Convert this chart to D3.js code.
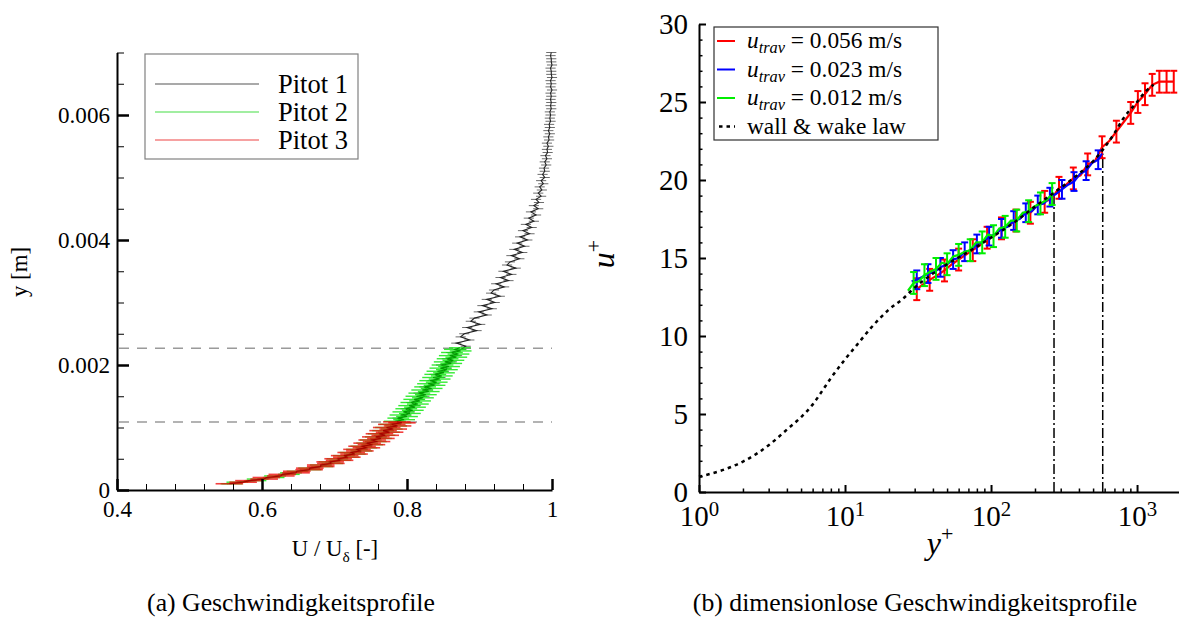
<!DOCTYPE html>
<html>
<head>
<meta charset="utf-8">
<script src="https://cdn.jsdelivr.net/npm/d3@7"></script>
<style>
  body { margin: 0; background: #fff; }
  svg { display: block; }
</style>
</head>
<body>
<svg id="fig" width="1179" height="620"></svg>
<script>
// ---------- (a) velocity profiles of the three Pitot probes ----------
const profileXTicks = [0.4, 0.6, 0.8, 1];
const profileXTickLabels = ["0.4", "0.6", "0.8", "1"];
const profileYTicks = [0, 0.002, 0.004, 0.006];
const profileYTickLabels = ["0", "0.002", "0.004", "0.006"];
const pitotNames = ["Pitot 1", "Pitot 2", "Pitot 3"];
const overlapLimits = [0.00109, 0.00227];   // m, traverse overlap bounds
const pitotErr = [0.007, 0.015, 0.019];      // half width of the U/U_delta bars

// wall distance in mm, U / U_delta
const pitot1Ymm = [0.10,0.15,0.20,0.25,0.30,0.35,0.40,0.45,0.50,0.55,0.60,0.65,0.70,0.75,0.80,0.85,0.90,0.95,1.00,1.05,
  1.10,1.15,1.20,1.25,1.30,1.35,1.40,1.45,1.50,1.55,1.60,1.65,1.70,1.75,1.80,1.85,1.90,1.95,2.00,2.05,
  2.10,2.15,2.20,2.25,2.30,2.35,2.40,2.45,2.50,2.55,2.60,2.65,2.70,2.75,2.80,2.85,2.90,2.95,3.00,3.05,
  3.10,3.15,3.20,3.25,3.30,3.35,3.40,3.45,3.50,3.55,3.60,3.65,3.70,3.75,3.80,3.85,3.90,3.95,4.00,4.05,
  4.10,4.15,4.20,4.25,4.30,4.35,4.40,4.45,4.50,4.55,4.60,4.65,4.70,4.75,4.80,4.85,4.90,4.95,5.00,5.05,
  5.10,5.15,5.20,5.25,5.30,5.35,5.40,5.45,5.50,5.55,5.60,5.65,5.70,5.75,5.80,5.85,5.90,5.95,6.00,6.05,
  6.10,6.15,6.20,6.25,6.30,6.35,6.40,6.45,6.50,6.55,6.60,6.65,6.70,6.75,6.80,6.85,6.90,6.95,7.00];
const pitot1U = [0.552,0.583,0.613,0.630,0.655,0.668,0.689,0.694,0.711,0.716,0.724,0.738,0.745,0.746,0.752,0.765,0.763,0.774,0.779,0.777,
  0.792,0.787,0.799,0.804,0.798,0.812,0.806,0.817,0.824,0.816,0.829,0.824,0.839,0.835,0.846,0.838,0.851,0.855,0.847,0.862,
  0.855,0.869,0.861,0.875,0.881,0.868,0.886,0.874,0.879,0.896,0.883,0.901,0.888,0.893,0.910,0.899,0.917,0.904,0.921,0.910,
  0.928,0.916,0.920,0.934,0.923,0.940,0.929,0.944,0.933,0.950,0.938,0.942,0.955,0.944,0.959,0.948,0.962,0.952,0.966,0.956,
  0.969,0.960,0.972,0.964,0.975,0.968,0.978,0.971,0.981,0.975,0.982,0.978,0.985,0.981,0.986,0.983,0.988,0.985,0.990,0.987,
  0.990,0.989,0.992,0.990,0.993,0.991,0.994,0.993,0.995,0.993,0.996,0.995,0.997,0.995,0.997,0.996,0.998,0.997,0.998,0.997,
  0.999,0.998,0.999,0.998,0.999,0.998,1.000,0.998,0.999,0.998,1.000,0.999,0.999,0.998,1.000,0.999,0.999,0.998,0.999];

const pitot2Ymm = [0.100,0.125,0.150,0.175,0.200,0.225,0.250,0.275,0.300,0.325,0.350,0.375,0.400,0.425,0.450,0.475,0.500,0.525,0.550,0.575,
  0.600,0.625,0.650,0.675,0.700,0.725,0.750,0.775,0.800,0.825,0.850,0.875,0.900,0.925,0.950,0.975,1.000,1.025,1.050,1.075,
  1.100,1.125,1.150,1.175,1.200,1.225,1.250,1.275,1.300,1.325,1.350,1.375,1.400,1.425,1.450,1.475,1.500,1.525,1.550,1.575,
  1.600,1.625,1.650,1.675,1.700,1.725,1.750,1.775,1.800,1.825,1.850,1.875,1.900,1.925,1.950,1.975,2.000,2.025,2.050,2.075,
  2.100,2.125,2.150,2.175,2.200,2.225,2.250,2.275];
const pitot2U = [0.558,0.566,0.591,0.594,0.616,0.618,0.637,0.640,0.649,0.667,0.665,0.683,0.681,0.697,0.693,0.708,0.704,0.719,0.713,0.728,
  0.722,0.737,0.731,0.744,0.737,0.752,0.745,0.757,0.750,0.764,0.757,0.769,0.761,0.775,0.767,0.779,0.771,0.785,0.777,0.791,
  0.783,0.796,0.788,0.800,0.791,0.804,0.795,0.808,0.799,0.811,0.803,0.815,0.806,0.818,0.810,0.822,0.813,0.826,0.817,0.830,
  0.821,0.834,0.825,0.838,0.829,0.841,0.832,0.845,0.836,0.848,0.839,0.851,0.842,0.855,0.846,0.858,0.849,0.861,0.852,0.864,
  0.856,0.868,0.859,0.871,0.862,0.874,0.866,0.873];

const pitot3Ymm = [0.100,0.125,0.150,0.175,0.200,0.225,0.250,0.275,0.300,0.325,0.350,0.375,0.400,0.425,0.450,0.475,0.500,0.525,0.550,0.575,
  0.600,0.625,0.650,0.675,0.700,0.725,0.750,0.775,0.800,0.825,0.850,0.875,0.900,0.925,0.950,0.975,1.000,1.025,1.050,1.075,1.090];
const pitot3U = [0.555,0.574,0.582,0.603,0.606,0.626,0.628,0.647,0.648,0.665,0.666,0.681,0.681,0.695,0.694,0.707,0.705,0.717,0.714,0.727,
  0.723,0.735,0.731,0.744,0.738,0.751,0.745,0.758,0.752,0.764,0.757,0.770,0.762,0.776,0.767,0.781,0.772,0.787,0.779,0.793,0.786];

// ---------- (b) dimensionless profiles u+ over y+ ----------
const yPlusTicks = [1, 10, 100, 1000];
const yPlusExponents = ["0", "1", "2", "3"];
const uPlusTicks = [0, 5, 10, 15, 20, 25, 30];
const travSpeeds = ["0.056", "0.023", "0.012"];
const travColors = ["#ff0000", "#0000ff", "#00ee00"];
const travErr = [0.7, 0.6, 0.7];
const regionBounds = [270, 582];     // y+ of the dash-dotted markers
const regionTops = [19.1, 21.7];     // u+ where the markers end

const fastYp = [31,34,38,43,48,54,60,67,75,84,94,105,118,132,148,166,186,208,233,261,292,327,366,410,459,514,576,645,722,808,905,1013,1134,1270,1422,1593,1784];
const fastUp = [13.0,13.3,13.6,13.9,14.2,14.6,14.9,15.2,15.5,15.8,16.3,16.4,16.9,17.1,17.4,17.8,17.9,18.4,18.6,18.8,19.5,19.7,20.1,20.3,21.0,21.2,22.1,22.5,23.1,23.7,24.3,25.0,25.5,26.1,26.3,26.3,26.3];

const midYp = [28.6,31,34,37,41,45,50,55,60,66,73,80,88,97,107,118,130,143,157,173,190,209,230,253,278,306,337,370,407,448,493,542,575];
const midUp = [13.5,13.6,13.8,14.0,14.1,14.4,14.6,14.9,15.0,15.4,15.5,15.9,16.0,16.4,16.5,16.9,17.0,17.4,17.5,17.9,18.0,18.4,18.5,18.9,19.1,19.4,19.7,19.9,20.4,20.6,21.1,21.3,21.7];

const slowYp = [27,29.5,32,35,38,42,46,50,55,60,66,72,79,87,95,104,114,125,137,150,165,181,198,218,239,262,268];
const slowUp = [12.9,13.4,13.5,13.9,14.1,14.3,14.7,14.6,15.1,15.2,15.4,15.5,16.0,16.0,16.5,16.4,16.9,17.0,17.4,17.4,17.9,18.0,18.3,18.5,18.7,19.1,19.2];

const wallLawYp = [1,1.5,2,3,4,5,6,7,8,10,12,15,20,25,30,40,50,70,100,150,200,300,400,500,600,700,800,1000,1150,1300];
const wallLawUp = [0.98,1.45,1.95,3.0,4.0,4.8,5.6,6.5,7.3,8.5,9.4,10.5,11.7,12.4,13.1,14.0,14.6,15.4,16.3,17.4,18.3,19.5,20.4,21.2,22.1,23.0,23.9,25.0,25.7,26.1];

// pick the first serif face that is really installed
const serifCandidates = ["Liberation Serif", "DejaVu Serif", "Noto Serif", "Times New Roman", "Tinos", "FreeSerif",
  "Nimbus Roman", "Nimbus Roman No9 L", "Georgia", "Noto Serif CJK SC", "Source Serif Pro", "Bitstream Vera Serif"];
const probeCtx = document.createElement("canvas").getContext("2d");
function faceWidth(font) {
  probeCtx.font = "72px " + font;
  return probeCtx.measureText("mmmmwwwwlliiIIRRgg0123456789").width;
}
const serifFace = serifCandidates.find(f =>
  faceWidth(`"${f}", monospace`) !== faceWidth("monospace") || faceWidth(`"${f}", sans-serif`) !== faceWidth("sans-serif"));
const SERIF = serifFace ? `"${serifFace}", serif` : "serif";
document.querySelector("style").textContent += `text { font-family: ${SERIF}; fill: #000; }`;

const svg = d3.select("#fig");

// font size that makes `str` span `width` pixels
function sizeFor(str, width) {
  const t = svg.append("text").attr("font-size", 100).text(str);
  const w = t.node().getComputedTextLength();
  t.remove();
  return 100 * width / w;
}
const tickSizeA = sizeFor("0.006", 52);
const tickSizeB = sizeFor("30", 29);
const legendSizeA = sizeFor("Pitot 1", 70);
const legendSizeB = sizeFor("wall & wake law", 159);
const captionSize = Math.min(sizeFor("(a)  Geschwindigkeitsprofile", 288), sizeFor("(b)  dimensionlose Geschwindigkeitsprofile", 494));
const labelSizeA = sizeFor("y [m]", 50);

function styleAxis(g, size) {
  g.attr("font-family", null).attr("font-size", size);
  g.select(".domain").attr("stroke", "#000").attr("stroke-width", 2);
  g.selectAll(".tick line").attr("stroke", "#000");
  g.selectAll(".tick text").attr("fill", "#000");
}

// ======================= panel (a) =======================
const xa = d3.scaleLinear().domain([0.4, 1]).range([117, 552]);
const ya = d3.scaleLinear().domain([0, 0.007]).range([490, 52.5]);
const pa = svg.append("g");

const minorXa = d3.range(1, 15).map(i => 0.4 + i * 0.04).filter(v => !profileXTicks.some(t => Math.abs(t - v) < 1e-6));
const minorYa = d3.range(1, 15).map(i => i * 0.0005).filter(v => !profileYTicks.some(t => Math.abs(t - v) < 1e-9));

// overlap bounds (under the data)
pa.selectAll("line.bound").data(overlapLimits).join("line")
  .attr("x1", xa(0.4) + 2).attr("x2", xa(1))
  .attr("y1", d => ya(d)).attr("y2", d => ya(d))
  .attr("stroke", "#9a9a9a").attr("stroke-width", 1.5).attr("stroke-dasharray", "10,8");

const profiles = [
  { y: pitot1Ymm, u: pitot1U, line: "#222222", bar: "#4a4a4a", barOp: 0.8, barW: 1, err: pitotErr[0] },
  { y: pitot2Ymm, u: pitot2U, line: "#009a00", bar: "#10e810", barOp: 0.85, barW: 1.4, err: pitotErr[1] },
  { y: pitot3Ymm, u: pitot3U, line: "#a80000", bar: "#f01010", barOp: 0.8, barW: 1.6, err: pitotErr[2] }
];
const lineA = d3.line().x(d => xa(d[1])).y(d => ya(d[0] / 1000));
profiles.forEach(p => {
  const pts = d3.zip(p.y, p.u);
  pa.append("g").selectAll("line").data(pts).join("line")
    .attr("x1", d => xa(d[1] - p.err)).attr("x2", d => xa(d[1] + p.err))
    .attr("y1", d => ya(d[0] / 1000)).attr("y2", d => ya(d[0] / 1000))
    .attr("stroke", p.bar).attr("stroke-opacity", p.barOp).attr("stroke-width", p.barW);
  pa.append("path").datum(pts).attr("d", lineA)
    .attr("fill", "none").attr("stroke", p.line).attr("stroke-width", 1.1);
});

pa.append("g").attr("transform", "translate(0,490)")
  .call(d3.axisBottom(xa).tickValues(minorXa).tickSizeInner(-6).tickSizeOuter(0).tickFormat(""))
  .call(g => g.select(".domain").remove())
  .call(g => g.selectAll(".tick line").attr("stroke", "#000").attr("stroke-width", 1));
pa.append("g").attr("transform", "translate(117,0)")
  .call(d3.axisLeft(ya).tickValues(minorYa).tickSizeInner(-7).tickSizeOuter(0).tickFormat(""))
  .call(g => g.select(".domain").remove())
  .call(g => g.selectAll(".tick line").attr("stroke", "#000").attr("stroke-width", 1));

pa.append("g").attr("transform", "translate(0,490)")
  .call(d3.axisBottom(xa).tickValues(profileXTicks).tickSizeInner(-11).tickSizeOuter(0).tickPadding(11)
    .tickFormat((d, i) => profileXTickLabels[i]))
  .call(g => styleAxis(g, tickSizeA))
  .call(g => g.selectAll(".tick line").attr("stroke-width", 2.5));
pa.append("g").attr("transform", "translate(117,0)")
  .call(d3.axisLeft(ya).tickValues(profileYTicks).tickSizeInner(-12).tickSizeOuter(0).tickPadding(7)
    .tickFormat((d, i) => profileYTickLabels[i]))
  .call(g => styleAxis(g, tickSizeA))
  .call(g => g.selectAll(".tick line").attr("stroke-width", 2.5));

// legend (a)
const lgA = pa.append("g");
lgA.append("rect").attr("x", 145).attr("y", 54).attr("width", 213).attr("height", 105)
  .attr("fill", "#fff").attr("stroke", "#808080").attr("stroke-width", 1.2);
const legendAColors = ["#555555", "#44dd44", "#ee4444"];
pitotNames.forEach((name, i) => {
  const yy = 84 + i * 28;
  lgA.append("line").attr("x1", 155).attr("x2", 259).attr("y1", yy).attr("y2", yy)
    .attr("stroke", legendAColors[i]).attr("stroke-width", 1.2);
  lgA.append("text").attr("x", 278).attr("y", yy + 8.5).attr("font-size", legendSizeA).text(name);
});

// axis titles (a)
pa.append("text").attr("transform", "translate(27,272) rotate(-90)")
  .attr("text-anchor", "middle").attr("font-size", labelSizeA).text("y [m]");
const xtA = pa.append("text").attr("x", 335).attr("y", 556).attr("text-anchor", "middle").attr("font-size", labelSizeA);
xtA.append("tspan").text("U / U");
xtA.append("tspan").attr("dy", 6).attr("font-size", labelSizeA * 0.68).text("δ");
xtA.append("tspan").attr("dy", -6).text(" [-]");

pa.append("text").attr("x", 291).attr("y", 611).attr("text-anchor", "middle").attr("font-size", captionSize)
  .text("(a)  Geschwindigkeitsprofile");

// ======================= panel (b) =======================
const xb = d3.scaleLog().domain([1, 2000]).range([699, 1181]);
const yb = d3.scaleLinear().domain([0, 30]).range([492, 24]);
const pb = svg.append("g");

const minorXb = [];
[1, 10, 100, 1000].forEach(dec => d3.range(2, 10).forEach(m => { if (dec * m <= 2000) minorXb.push(dec * m); }));
const minorYb = d3.range(1, 30).filter(v => v % 5 !== 0);

pb.append("g").attr("transform", "translate(0,492)")
  .call(d3.axisBottom(xb).tickValues(minorXb).tickSizeInner(-3.5).tickSizeOuter(0).tickFormat(""))
  .call(g => g.select(".domain").remove())
  .call(g => g.selectAll(".tick line").attr("stroke", "#000").attr("stroke-width", 1.5));
pb.append("g").attr("transform", "translate(699,0)")
  .call(d3.axisLeft(yb).tickValues(minorYb).tickSizeInner(-3.5).tickSizeOuter(0).tickFormat(""))
  .call(g => g.select(".domain").remove())
  .call(g => g.selectAll(".tick line").attr("stroke", "#000").attr("stroke-width", 1.5));

pb.append("g").attr("transform", "translate(0,492)")
  .call(d3.axisBottom(xb).tickValues(yPlusTicks).tickSizeInner(-7).tickSizeOuter(0).tickPadding(13).tickFormat(""))
  .call(g => styleAxis(g, tickSizeB))
  .call(g => g.selectAll(".tick line").attr("stroke-width", 2))
  .call(g => g.selectAll(".tick text").each(function (d, i) {
    const t = d3.select(this);
    t.append("tspan").text("10");
    t.append("tspan").attr("dy", "-0.45em").attr("font-size", tickSizeB * 0.72).text(yPlusExponents[i]);
  }));
pb.append("g").attr("transform", "translate(699,0)")
  .call(d3.axisLeft(yb).tickValues(uPlusTicks).tickSizeInner(-7).tickSizeOuter(0).tickPadding(11).tickFormat(d3.format("d")))
  .call(g => styleAxis(g, tickSizeB))
  .call(g => g.selectAll(".tick line").attr("stroke-width", 2));

// dash-dotted region markers
pb.selectAll("line.region").data(d3.zip(regionBounds, regionTops)).join("line")
  .attr("x1", d => xb(d[0])).attr("x2", d => xb(d[0]))
  .attr("y1", yb(0)).attr("y2", d => yb(d[1]))
  .attr("stroke", "#000").attr("stroke-width", 1.5).attr("stroke-dasharray", "10,3,2,3");

const series = [
  { yp: fastYp, up: fastUp },
  { yp: midYp, up: midUp },
  { yp: slowYp, up: slowUp }
];
const lineB = d3.line().x(d => xb(d[0])).y(d => yb(d[1]));
series.forEach((s, i) => {
  const pts = d3.zip(s.yp, s.up);
  const barPts = pts.filter((d, k) => k % 2 === (i === 0 ? 0 : 1) || d[0] > 900);
  const col = travColors[i], e = travErr[i];
  pb.append("path").datum(pts).attr("d", lineB)
    .attr("fill", "none").attr("stroke", col).attr("stroke-width", 2.2);
  const bars = pb.append("g").attr("stroke", col).attr("stroke-width", 2);
  bars.selectAll("line.v").data(barPts).join("line")
    .attr("x1", d => xb(d[0])).attr("x2", d => xb(d[0]))
    .attr("y1", d => yb(d[1] - e)).attr("y2", d => yb(d[1] + e));
  [-1, 1].forEach(sgn => {
    bars.selectAll(null).data(barPts).join("line")
      .attr("x1", d => xb(d[0]) - 3.5).attr("x2", d => xb(d[0]) + 3.5)
      .attr("y1", d => yb(d[1] + sgn * e)).attr("y2", d => yb(d[1] + sgn * e));
  });
});

// wall & wake law
pb.append("path").datum(d3.zip(wallLawYp, wallLawUp))
  .attr("d", lineB.curve(d3.curveMonotoneX))
  .attr("fill", "none").attr("stroke", "#000").attr("stroke-width", 2.5).attr("stroke-dasharray", "3.5,4");

// legend (b)
const lgB = pb.append("g");
lgB.append("rect").attr("x", 714).attr("y", 27).attr("width", 224).attr("height", 113)
  .attr("fill", "#fff").attr("stroke", "#303030").attr("stroke-width", 1.2);
travSpeeds.forEach((v, i) => {
  const yy = 41 + i * 28.5;
  lgB.append("line").attr("x1", 717).attr("x2", 735).attr("y1", yy).attr("y2", yy)
    .attr("stroke", travColors[i]).attr("stroke-width", 2);
  const t = lgB.append("text").attr("x", 747).attr("y", yy + 7).attr("font-size", legendSizeB);
  t.append("tspan").attr("font-style", "italic").text("u");
  t.append("tspan").attr("font-style", "italic").attr("font-size", legendSizeB * 0.7).attr("dy", 5).text("trav");
  t.append("tspan").attr("dy", -5).text(" = " + v + " m/s");
});
const yLaw = 41 + 3 * 28.5;
lgB.append("line").attr("x1", 719).attr("x2", 735).attr("y1", yLaw).attr("y2", yLaw)
  .attr("stroke", "#000").attr("stroke-width", 2.5).attr("stroke-dasharray", "3.5,4");
lgB.append("text").attr("x", 747).attr("y", yLaw + 7).attr("font-size", legendSizeB).text("wall & wake law");

// axis titles (b)
const ytB = pb.append("text").attr("transform", "translate(614,254) rotate(-90)")
  .attr("text-anchor", "middle").attr("font-size", 32);
ytB.append("tspan").attr("font-style", "italic").text("u");
ytB.append("tspan").attr("dy", -13).attr("font-size", 22).text("+");
const xtB = pb.append("text").attr("x", 940).attr("y", 554).attr("text-anchor", "middle").attr("font-size", 32);
xtB.append("tspan").attr("font-style", "italic").text("y");
xtB.append("tspan").attr("dy", -13).attr("font-size", 22).text("+");

pb.append("text").attr("x", 915).attr("y", 611).attr("text-anchor", "middle").attr("font-size", captionSize)
  .text("(b)  dimensionlose Geschwindigkeitsprofile");
</script>
</body>
</html>
